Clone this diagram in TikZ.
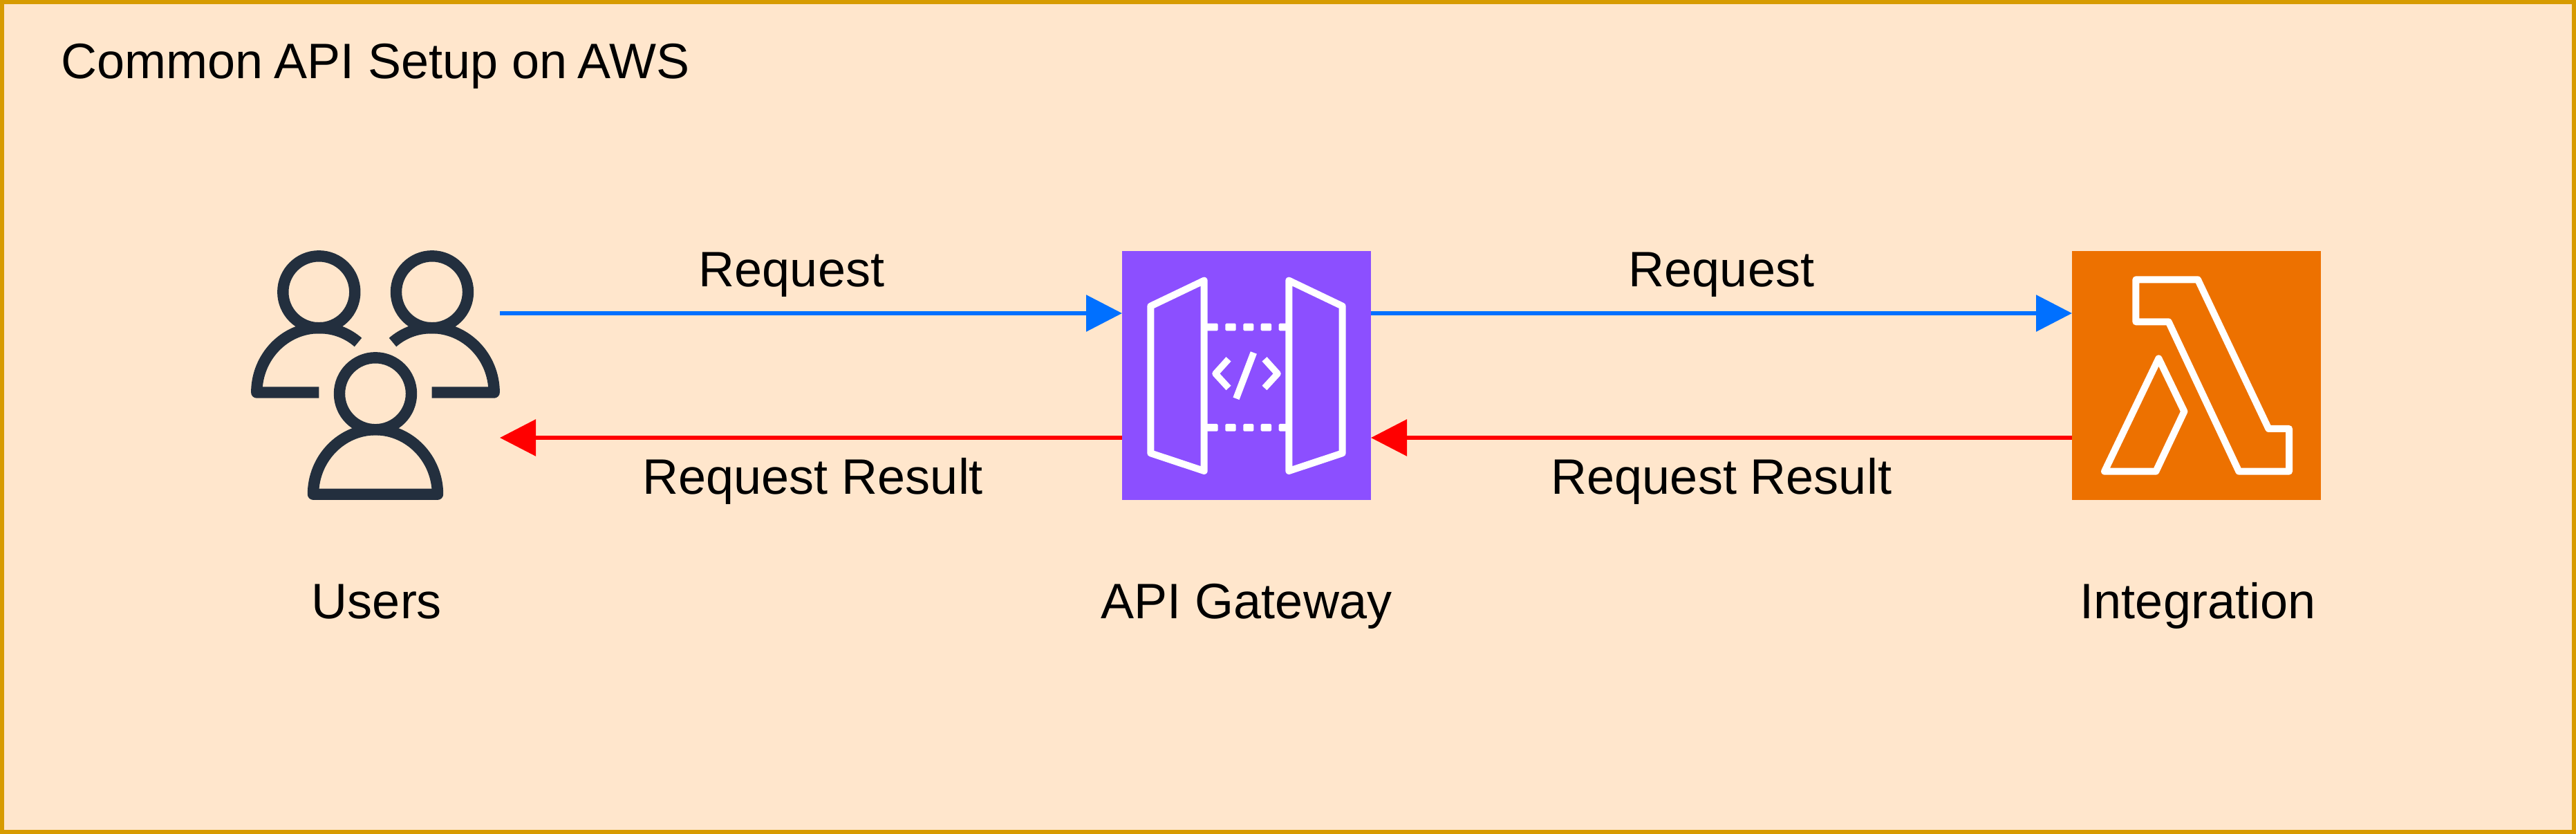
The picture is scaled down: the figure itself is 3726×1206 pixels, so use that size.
\documentclass[tikz,border=0pt]{standalone}
\usepackage{fontspec}
\setmainfont{Liberation Sans}
\usetikzlibrary{arrows.meta}
\definecolor{panelfill}{HTML}{FFE6CC}
\definecolor{panelline}{HTML}{D79B00}
\definecolor{apipurple}{HTML}{8C4FFF}
\definecolor{lambdaorange}{HTML}{ED7100}
\definecolor{userdark}{HTML}{232F3E}
\definecolor{reqblue}{HTML}{0070FF}
\tikzset{
  x=1pt,y=-1pt,
  panel/.style={draw=panelline,fill=panelfill,line width=6pt},
  iconbox/.style={minimum size=360pt,inner sep=0pt,outer sep=0pt},
  lbl/.style={font=\fontsize{72}{80}\selectfont,text=black,inner sep=0pt,anchor=base},
  reqline/.style={draw=reqblue,line width=6pt,-{Triangle[length=52pt,width=52pt]}},
  resline/.style={draw=red,line width=6pt,-{Triangle[length=52pt,width=52pt]}},
  userline/.style={draw=userdark,line width=16.4pt,line join=round,line cap=butt},
  glyph/.style={draw=white,line width=10pt,line join=round,line cap=butt},
  zoomA/.style={shift={(1600,350)},x=0.33333pt,y=-0.33333pt},
  zoomB/.style={shift={(2980,350)},x=0.33333pt,y=-0.33333pt},
}
\begin{document}
\begin{tikzpicture}
\useasboundingbox (0,0) rectangle (3726,1206);
\path[panel] (3,3) rectangle (3723,1203);
\node[lbl,anchor=base west] (title) at (88.5,114) {Common \kern-4pt API Setup on \kern-5pt AWS};

% nodes
\node[iconbox] (users) at (543,543) {};
\node[iconbox,fill=apipurple] (gateway) at (1803,543) {};
\node[iconbox,fill=lambdaorange] (lambda) at (3177,543) {};

% Users icon
\foreach \cx/\cy in {461.3/422.3,625/422.3,543/569.3}
  \draw[userline] (\cx,\cy) circle[radius=52pt];
\draw[userline] (453,714.7) .. controls (453,663) and (494,621.2) .. (543,621.2)
   .. controls (592,621.2) and (633,663) .. (633,714.7) -- cycle;
\draw[userline] (461.3,567.5) -- (371.3,567.5) .. controls (371.3,516) and (412,474.1) .. (461.3,474.1)
   .. controls (484,474.1) and (503,482) .. (518,495);
\draw[userline] (624.7,567.5) -- (714.7,567.5) .. controls (714.7,516) and (674,474.1) .. (624.7,474.1)
   .. controls (602,474.1) and (583,482) .. (568,495);

% API Gateway icon
\begin{scope}[zoomA]
  \draw[glyph] (193,278) -- (425,167) -- (425,993) -- (193,916) -- cycle;
  \draw[glyph] (1025,278) -- (793,167) -- (793,993) -- (1025,916) -- cycle;
  \foreach \yy in {369,805}
    \foreach \xa/\xb in {430/485,517/563,595/640,671/717,749/790}
      \fill[white,rounded corners=1.5pt] (\xa,\yy-16) rectangle (\xb,\yy+16);
  \draw[glyph,line width=9.5pt] (531,508) -- (474,571) -- (531,633);
  \draw[glyph,line width=9.5pt] (687,508) -- (744,571) -- (687,633);
  \draw[glyph,line width=9.7pt] (640,480) -- (564,679);
\end{scope}

% Lambda icon
\begin{scope}[zoomB]
  \draw[glyph] (328,163) -- (597,163) -- (904,810) -- (993,810) -- (993,995) -- (775,995)
     -- (470,346) -- (328,346) -- cycle;
  \draw[glyph] (427,505) -- (538,735) -- (415,995) -- (192,995) -- cycle;
\end{scope}

% connectors
\draw[reqline] ([yshift=90pt]users.east) -- ([yshift=90pt]gateway.west);
\draw[resline] ([yshift=-90pt]gateway.west) -- ([yshift=-90pt]users.east);
\draw[reqline] ([yshift=90pt]gateway.east) -- ([yshift=90pt]lambda.west);
\draw[resline] ([yshift=-90pt]lambda.west) -- ([yshift=-90pt]gateway.east);

% labels
\node[lbl] (req1) at (1145,414) {Request};
\node[lbl] (res1) at (1176,714) {Request Result};
\node[lbl] (req2) at (2490,414) {Request};
\node[lbl] (res2) at (2490,714) {Request Result};
\node[lbl] (ulabel) at (545,894.5) {Users};
\node[lbl] (glabel) at (1803,894.5) {API Gateway};
\node[lbl] (ilabel) at (3179,894.5) {Integration};
\end{tikzpicture}
\end{document}
